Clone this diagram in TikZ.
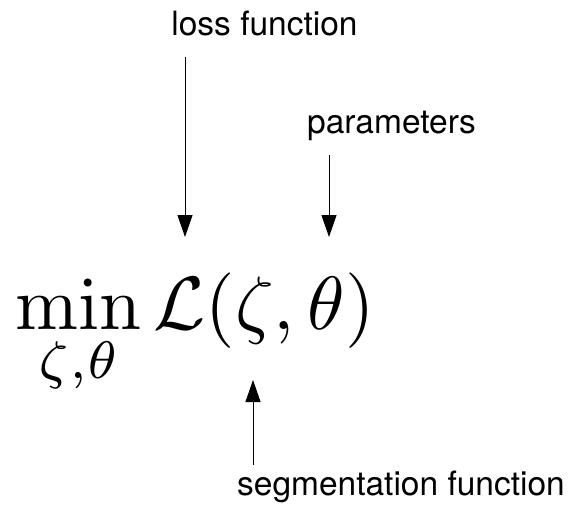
\documentclass[tikz,border=0pt]{standalone}
\usepackage[no-math]{fontspec}
\setmainfont{TeX Gyre Heros}
\usetikzlibrary{arrows.meta}
\tikzset{
  lbl/.style={font=\fontsize{33.5}{40}\selectfont, inner sep=0pt, anchor=base},
  ptr/.style={draw=black, line width=1pt, -{Triangle[length=22pt,width=15pt]}},
}
\begin{document}
\begin{tikzpicture}[x=1pt,y=-1pt]
\useasboundingbox (0,0) rectangle (572,504);
\node[lbl] (loss) at (264.5,35) {loss function};
\node[lbl] (param) at (391.5,133) {parameters};
\node[lbl] (seg) at (401,495) {segmentation function};
\node[scale=7.55, inner sep=0pt, anchor=base west] (formula) at (14,329) {$\displaystyle\min_{\zeta,\theta}\mathcal{L}(\zeta,\theta)$};
\coordinate (a1s) at (185,57);
\coordinate (a1e) at (185,237);
\coordinate (a2s) at (329,155);
\coordinate (a2e) at (329,237);
\coordinate (a3s) at (253,465);
\coordinate (a3e) at (253,380);
\draw[ptr] (a1s) -- (a1e);
\draw[ptr] (a2s) -- (a2e);
\draw[ptr] (a3s) -- (a3e);
\end{tikzpicture}
\end{document}
